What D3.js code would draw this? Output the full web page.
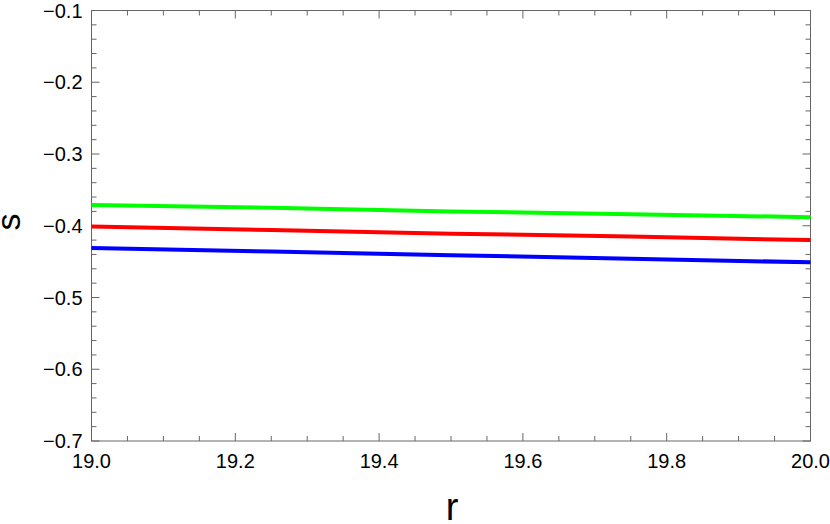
<!DOCTYPE html>
<html>
<meta charset="utf-8">
<style>
body { margin: 0; background: #fff; }
svg text { font-family: "Liberation Sans", Arial, sans-serif; fill: #000; }
.frame line, .frame path { stroke: #666; }
</style>
<body>
<script src="https://d3js.org/d3.v7.min.js"></script>
<script>
// values
var rVals = [19.0, 19.25, 19.5, 19.75, 20.0];
var sGreen = [-0.371, -0.375, -0.380, -0.384, -0.388];
var sRed   = [-0.401, -0.406, -0.411, -0.415, -0.420];
var sBlue  = [-0.431, -0.436, -0.441, -0.446, -0.451];
var xTicks = [19.0, 19.2, 19.4, 19.6, 19.8, 20.0];
var yTicks = [-0.1, -0.2, -0.3, -0.4, -0.5, -0.6, -0.7];

var W = 830, H = 524;
var m = {top: 10.5, right: 19.5, bottom: 83, left: 91.5};
var w = W - m.left - m.right, h = H - m.top - m.bottom;

var svg = d3.select("body").append("svg").attr("width", W).attr("height", H);
var g = svg.append("g").attr("transform", "translate(" + m.left + "," + m.top + ")");

var x = d3.scaleLinear().domain([19, 20]).range([0, w]);
var y = d3.scaleLinear().domain([-0.7, -0.1]).range([h, 0]);

var fmt = function(d) { return d3.format(".1f")(d).replace("-", "\u2212"); };
var xMinor = d3.range(19, 20.0001, 0.05).filter(function(v) { return Math.abs(v * 5 - Math.round(v * 5)) > 1e-6; });
var yMinor = d3.range(-0.7, -0.0999, 0.02).filter(function(v) { return Math.abs(v * 10 - Math.round(v * 10)) > 1e-6; });

var frame = g.append("g").attr("class", "frame");
frame.append("rect").attr("width", w).attr("height", h)
  .attr("fill", "none").attr("stroke", "#666").attr("stroke-width", 1);

function ticks(vals, len) {
  vals.forEach(function(v) {
    frame.append("line").attr("x1", x(v)).attr("x2", x(v)).attr("y1", h).attr("y2", h - len);
    frame.append("line").attr("x1", x(v)).attr("x2", x(v)).attr("y1", 0).attr("y2", len);
  });
}
function yticks(vals, len) {
  vals.forEach(function(v) {
    frame.append("line").attr("y1", y(v)).attr("y2", y(v)).attr("x1", 0).attr("x2", len);
    frame.append("line").attr("y1", y(v)).attr("y2", y(v)).attr("x1", w).attr("x2", w - len);
  });
}
ticks(xTicks, 8); ticks(xMinor, 5);
yticks(yTicks, 8); yticks(yMinor, 5);

g.selectAll(".xl").data(xTicks).enter().append("text")
  .attr("x", function(d) { return x(d); }).attr("y", h + 27)
  .attr("text-anchor", "middle").attr("font-size", "20px").text(fmt);
g.selectAll(".yl").data(yTicks).enter().append("text")
  .attr("x", -9).attr("y", function(d) { return y(d); }).attr("dy", "0.36em")
  .attr("text-anchor", "end").attr("font-size", "20px").text(fmt);

// y axis label, rotated like the frame label of the original
svg.append("text").attr("transform", "translate(20,222) rotate(-90)")
  .attr("text-anchor", "middle").attr("font-size", "34px").text("s");
svg.append("text").attr("x", 452).attr("y", 520).attr("text-anchor", "middle")
  .attr("font-size", "38px").text("r");

var line = d3.line().x(function(d) { return x(d[0]); }).y(function(d) { return y(d[1]); });
[[sGreen, "#00ff00"], [sRed, "#ff0000"], [sBlue, "#0000ff"]].forEach(function(s) {
  g.append("path").datum(rVals.map(function(r, i) { return [r, s[0][i]]; }))
    .attr("d", line).attr("fill", "none").attr("stroke", s[1]).attr("stroke-width", 4);
});
</script>
</body>
</html>
